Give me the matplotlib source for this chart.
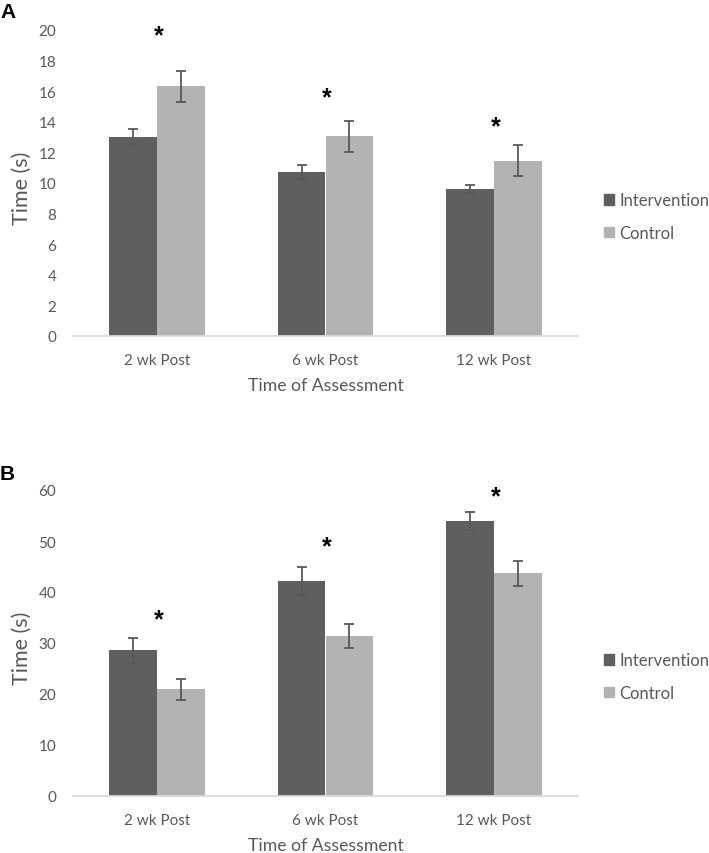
import numpy as np
import matplotlib.pyplot as plt
from matplotlib.patches import Patch

categories = ["2 wk Post", "6 wk Post", "12 wk Post"]

# panel A
a_intervention = [13.03, 10.72, 9.61]
a_intervention_err = [0.47, 0.47, 0.25]
a_control = [16.33, 13.06, 11.47]
a_control_err = [1.02, 1.02, 1.0]
a_star = [19.9, 15.9, 14.0]
a_yticks = [0, 2, 4, 6, 8, 10, 12, 14, 16, 18, 20]

# panel B
b_intervention = [28.6, 42.2, 53.95]
b_intervention_err = [2.45, 2.7, 1.7]
b_control = [20.9, 31.35, 43.65]
b_control_err = [2.1, 2.3, 2.5]
b_star = [35.4, 49.8, 59.5]
b_yticks = [0, 10, 20, 30, 40, 50, 60]

dark = "#5f5f5f"
light = "#b3b3b3"
textc = "#595959"

W, H = 709, 854
plt.rcParams['font.family'] = ['Lato', 'DejaVu Sans']
fig = plt.figure(figsize=(W / 100, H / 100), dpi=100)


def panel(top_px, bot_px, inter, inter_err, ctrl, ctrl_err, stars, yticks, letter, letter_y):
    left, right = 73, 578
    ax = fig.add_axes([left / W, (H - bot_px) / H, (right - left) / W, (bot_px - top_px) / H])
    x = np.arange(len(categories))
    w = 0.285
    ekw = dict(ecolor=textc, elinewidth=1.3, capsize=3.4, capthick=1.3)
    ax.bar(x - w / 2, inter, w, color=dark, yerr=inter_err, error_kw=ekw,
           label="Intervention", zorder=2)
    ax.bar(x + w / 2, ctrl, w, color=light, yerr=ctrl_err, error_kw=ekw,
           label="Control", zorder=2)
    for xi, s in zip(x, stars):
        # the glyph sits high in its box, nudge it down a little
        ax.annotate("*", (xi + 0.01, s), xytext=(0, -3), textcoords="offset points",
                    ha="center", va="center", fontsize=18, fontweight="bold",
                    color="black", family="Liberation Sans")
    ax.set_xlim(-0.5, 2.5)
    ax.set_ylim(yticks[0], yticks[-1])
    ax.set_yticks(yticks)
    ax.set_xticks(x)
    ax.set_xticklabels(categories)
    ax.tick_params(length=0, labelsize=11, colors=textc)
    ax.tick_params(axis="y", pad=12)
    ax.tick_params(axis="x", pad=12)
    for sp in ["top", "right", "left"]:
        ax.spines[sp].set_visible(False)
    ax.spines["bottom"].set_color("#d9d9d9")
    ax.spines["bottom"].set_linewidth(1.3)
    ax.set_ylabel("Time (s)", fontsize=15.5, color=textc, va="center")
    ax.yaxis.set_label_coords((21.5 - left) / (right - left), 0.485)
    ax.set_xlabel("Time of Assessment", fontsize=12.7, color=textc, va="center")
    ax.xaxis.set_label_coords(0.5, -49 / (bot_px - top_px))
    handles = [Patch(color=dark, label="Intervention"), Patch(color=light, label="Control")]
    ax.legend(handles=handles, loc="center left", bbox_to_anchor=(1.035, 0.39),
              frameon=False, fontsize=12, handlelength=0.6, handleheight=0.6,
              handletextpad=0.3, labelspacing=1.0, labelcolor=textc, borderpad=0)
    fig.text(0 / W, 1 - letter_y / H, letter, fontsize=15,
             fontweight="bold", family="Liberation Sans", va="center", ha="left")
    return ax


panel(31, 337, a_intervention, a_intervention_err, a_control, a_control_err,
      a_star, a_yticks, "A", 12)
panel(491, 797, b_intervention, b_intervention_err, b_control, b_control_err,
      b_star, b_yticks, "B", 475)

fig.savefig("out.png", dpi=100)
